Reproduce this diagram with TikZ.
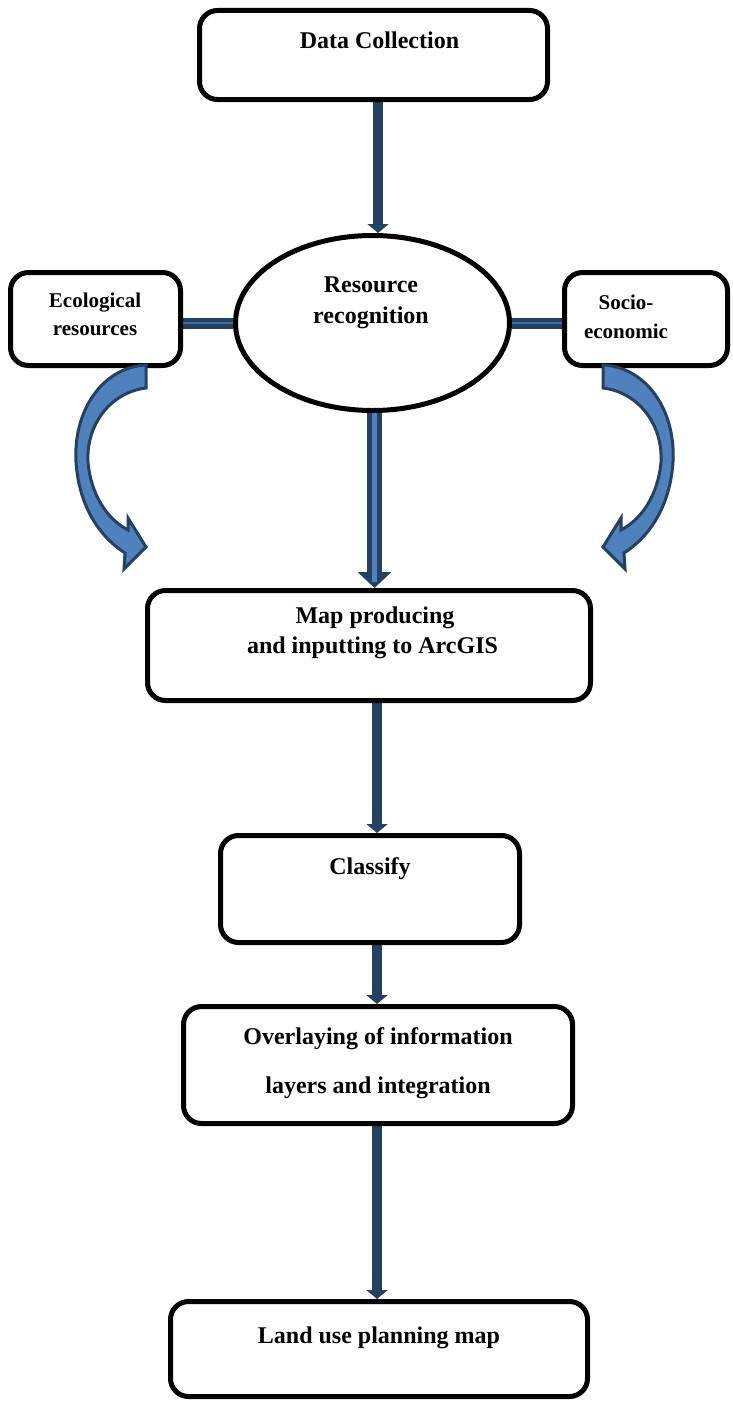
\documentclass[tikz,border=0pt]{standalone}
\usepackage{fontspec}
\setmainfont{Liberation Serif}
\usetikzlibrary{arrows.meta,shapes.geometric}
\definecolor{dkblue}{RGB}{37,64,97}
\definecolor{ltblue}{RGB}{79,129,189}
\pgfdeclarelayer{background}
\pgfsetlayers{background,main}
\begin{document}
\begin{tikzpicture}[x=1pt,y=-1pt,
  box/.style={draw=black,line width=5pt,rounded corners=18pt,fill=white,inner sep=0pt},
  oval/.style={draw=black,line width=5pt,ellipse,fill=white,inner sep=0pt},
  txt/.style={font=\fontsize{24}{29}\selectfont\bfseries,align=center,inner sep=0pt},
  stxt/.style={font=\fontsize{21}{29}\selectfont\bfseries,align=center,inner sep=0pt},
  bar/.style={draw=dkblue,line width=10pt,-{Triangle[width=21pt,length=9pt]}},
  dbar/.style={draw=dkblue,line width=15pt,-{Triangle[width=33pt,length=16pt]}},
  hbar/.style={draw=dkblue,line width=11pt},
  stripe/.style={draw=ltblue,line width=5pt},
  hstripe/.style={draw=ltblue!70!dkblue,line width=2pt},
  curved/.style={fill=ltblue,draw=dkblue,line width=3pt,line join=miter}]
\useasboundingbox (0,0) rectangle (732,1405);

% boxes
\node[box,minimum width=348pt,minimum height=89pt] (dc) at (373.5,55) {};
\node[oval,minimum width=274pt,minimum height=175pt] (rr) at (372.5,323) {};
\node[box,minimum width=170pt,minimum height=93pt] (eco) at (95.5,319) {};
\node[box,minimum width=163pt,minimum height=93pt] (soc) at (646,319) {};
\node[box,minimum width=443pt,minimum height=110pt] (map) at (369,645.5) {};
\node[box,minimum width=299pt,minimum height=107pt] (cl) at (370,889) {};
\node[box,minimum width=389pt,minimum height=117pt] (ov) at (378,1065) {};
\node[box,minimum width=417pt,minimum height=95pt] (lu) at (379,1349) {};

% texts
\node[txt] (t1) at (379.5,40) {Data Collection};
\node[txt] (t2a) at (371,285) {Resource};
\node[txt] (t2b) at (371,318) {recognition};
\node[stxt] (t3a) at (95,303) {Ecological};
\node[stxt] (t3b) at (95,331) {resources};
\node[stxt] (t4a) at (626,302) {Socio-};
\node[stxt] (t4b) at (626,331) {economic};
\node[txt] (t5a) at (375,618) {Map producing};
\node[txt] (t5b) at (372.5,648) {and inputting to ArcGIS};
\node[txt] (t6) at (370,869) {Classify};
\node[txt] (t7a) at (378,1039) {Overlaying of information};
\node[txt] (t7b) at (378,1088) {layers and integration};
\node[txt] (t8) at (379,1338) {Land use planning map};

\coordinate (ds) at ([xshift=2pt]rr.south);
\begin{pgfonlayer}{background}
  \draw[bar] ([xshift=4.5pt]dc.south) -- ([xshift=5.5pt]rr.north);
  \draw[hbar] (rr.west) -- (rr.west -| eco.east);
  \draw[hstripe] (rr.west) -- (rr.west -| eco.east);
  \draw[hbar] (rr.east) -- (rr.east -| soc.west);
  \draw[hstripe] (rr.east) -- (rr.east -| soc.west);
  \draw[dbar] (ds) -- (ds |- map.north);
  \draw[stripe] (ds) -- ([yshift=6pt]ds |- map.north);
  \draw[bar] ([xshift=8pt]map.south) -- ([xshift=7pt]cl.north);
  \draw[bar] ([xshift=7pt]cl.south) -- ([xshift=-1pt]ov.north);
  \draw[bar] ([xshift=-1pt]ov.south) -- ([xshift=-2pt]lu.north);
\end{pgfonlayer}

% curved arrows
\path[curved] (146,365) .. controls (103,367) and (73,410) .. (76,462)
  .. controls (79,507) and (100,537) .. (125,553)
  -- (124,569) -- (146,547) -- (128,518) -- (128,530)
  .. controls (107,519) and (91,495) .. (88,462)
  .. controls (86,423) and (112,392) .. (146,388) -- cycle;
\begin{scope}[shift={(749,0)},xscale=-1]
\path[curved] (146,365) .. controls (103,367) and (73,410) .. (76,462)
  .. controls (79,507) and (100,537) .. (125,553)
  -- (124,569) -- (146,547) -- (128,518) -- (128,530)
  .. controls (107,519) and (91,495) .. (88,462)
  .. controls (86,423) and (112,392) .. (146,388) -- cycle;
\end{scope}
\end{tikzpicture}
\end{document}
